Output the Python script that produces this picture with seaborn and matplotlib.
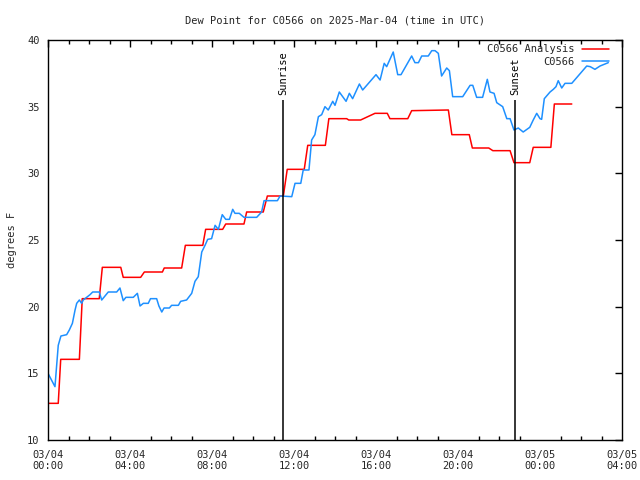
import matplotlib
matplotlib.use("Agg")
import matplotlib.pyplot as plt
import seaborn as sns
import pandas as pd
from matplotlib.ticker import MultipleLocator

# ---- data (hours since 03/04 00:00 UTC, dew point in F) ----
analysis_hours = [0.0, 0.5, 0.62, 1.53, 1.67, 2.5, 2.65, 3.55, 3.67, 4.52, 4.7, 5.58,
                  5.67, 6.52, 6.7, 7.55, 7.69, 8.52, 8.67, 9.56, 9.69, 10.5, 10.7, 11.48,
                  11.67, 12.5, 12.67, 13.53, 13.7, 14.57, 14.67, 15.25, 15.95, 16.55, 16.68,
                  17.55, 17.74, 19.53, 19.7, 20.55, 20.7, 21.5, 21.7, 22.54, 22.73, 23.5,
                  23.67, 24.53, 24.7, 25.55]
analysis_values = [12.75, 12.75, 16.05, 16.05, 20.6, 20.6, 22.95, 22.95, 22.2, 22.2, 22.6, 22.6,
                   22.9, 22.9, 24.6, 24.6, 25.8, 25.8, 26.2, 26.2, 27.1, 27.1, 28.3, 28.3,
                   30.3, 30.3, 32.1, 32.1, 34.1, 34.1, 34.0, 34.0, 34.5, 34.5, 34.1,
                   34.1, 34.7, 34.75, 32.9, 32.9, 31.9, 31.9, 31.7, 31.7, 30.8, 30.8,
                   31.95, 31.95, 35.2, 35.2]

obs_hours = [0, 0.34, 0.42, 0.5, 0.63, 0.91, 1.04, 1.19, 1.32, 1.4,
             1.53, 1.64, 1.72, 2.05, 2.18, 2.5, 2.62, 2.94, 3.35, 3.51,
             3.67, 3.8, 4.16, 4.36, 4.49, 4.65, 4.89, 5.0, 5.3, 5.41,
             5.55, 5.66, 5.92, 6.03, 6.36, 6.47, 6.76, 7.01, 7.17, 7.33,
             7.5, 7.66, 7.79, 7.98, 8.15, 8.31, 8.5, 8.67, 8.85, 9.01,
             9.12, 9.33, 9.56, 10.18, 10.42, 10.54, 11.19, 11.32, 11.89, 12.05,
             12.33, 12.45, 12.73, 12.86, 13.02, 13.19, 13.35, 13.51, 13.67, 13.89,
             14.0, 14.21, 14.54, 14.7, 14.86, 15.19, 15.35, 16.0, 16.2, 16.4,
             16.52, 16.84, 17.06, 17.22, 17.74, 17.9, 18.07, 18.23, 18.55, 18.72,
             18.88, 19.04, 19.2, 19.45, 19.58, 19.74, 20.23, 20.59, 20.72, 20.91,
             21.2, 21.43, 21.56, 21.76, 21.89, 22.18, 22.38, 22.54, 22.73, 22.94,
             23.18, 23.5, 23.67, 23.84, 24.0, 24.08, 24.21, 24.49, 24.65, 24.78,
             24.89, 25.06, 25.22, 25.55, 26.28, 26.45, 26.68, 26.93, 27.33]
obs_values = [15.0, 14.0, 15.5, 17.1, 17.8, 17.9, 18.25, 18.75, 19.75, 20.25,
              20.5, 20.25, 20.5, 20.9, 21.1, 21.1, 20.5, 21.1, 21.1, 21.4,
              20.45, 20.7, 20.7, 21.0, 20.05, 20.25, 20.25, 20.6, 20.6, 20.05,
              19.6, 19.9, 19.9, 20.1, 20.1, 20.4, 20.5, 21.0, 21.9, 22.25,
              24.1, 24.6, 25.05, 25.1, 26.1, 25.8, 26.9, 26.55, 26.55, 27.3,
              27.0, 27.0, 26.7, 26.7, 27.1, 27.95, 27.95, 28.3, 28.25, 29.25,
              29.25, 30.25, 30.25, 32.5, 32.9, 34.25, 34.4, 35.0, 34.75, 35.4,
              35.1, 36.1, 35.4, 36.0, 35.6, 36.7, 36.25, 37.4, 37.0, 38.25,
              38.0, 39.1, 37.4, 37.4, 38.8, 38.3, 38.3, 38.8, 38.8, 39.2,
              39.2, 39.0, 37.3, 37.9, 37.7, 35.75, 35.75, 36.6, 36.6, 35.7,
              35.7, 37.05, 36.1, 36.0, 35.3, 35.0, 34.1, 34.1, 33.25, 33.4,
              33.1, 33.45, 34.0, 34.5, 34.1, 34.05, 35.6, 36.1, 36.3, 36.5,
              36.95, 36.4, 36.75, 36.75, 38.05, 38.0, 37.8, 38.05, 38.3]

x_tick_hours = [0, 4, 8, 12, 16, 20, 24, 28]
x_tick_labels = ["03/04\n00:00", "03/04\n04:00", "03/04\n08:00", "03/04\n12:00",
                 "03/04\n16:00", "03/04\n20:00", "03/05\n00:00", "03/05\n04:00"]
sun_events = ["Sunrise", "Sunset"]
sun_hours = [11.47, 22.78]
sun_line_top = 35.5

title = "Dew Point for C0566 on 2025-Mar-04 (time in UTC)"
series_names = ["C0566 Analysis", "C0566"]

# ---- style ----
sns.set_style("white")
plt.rcParams['font.family'] = ['DejaVu Sans Mono', 'DejaVu Sans']
fs = 7.5

fig = plt.figure(figsize=(6.4, 4.8), dpi=100)
ax = fig.add_axes([48/640, 40/480, 574/640, 400/480])

df_a = pd.DataFrame({"hour": analysis_hours, "dewpoint": analysis_values})
df_o = pd.DataFrame({"hour": obs_hours, "dewpoint": obs_values})

sns.lineplot(data=df_a, x="hour", y="dewpoint", ax=ax, color="#ff0000", lw=1.1,
             estimator=None, sort=False, label=series_names[0])
sns.lineplot(data=df_o, x="hour", y="dewpoint", ax=ax, color="#1e90ff", lw=1.1,
             estimator=None, sort=False, label=series_names[1])

ax.vlines(sun_hours, 10, sun_line_top, color="black", lw=1.1)
for name, h in zip(sun_events, sun_hours):
    ax.text(h, sun_line_top + 0.4, name, rotation=90, ha="center", va="bottom",
            fontsize=fs, color="black")

ax.set_xlim(0, 28)
ax.set_ylim(10, 40)
ax.set_xticks(x_tick_hours)
ax.set_xticklabels(x_tick_labels, fontsize=fs)
ax.xaxis.set_minor_locator(MultipleLocator(1))
ax.set_yticks([10, 15, 20, 25, 30, 35, 40])
ax.tick_params(axis="y", labelsize=fs)
ax.tick_params(which="major", direction="in", length=5, width=1,
               top=True, right=True, color="black", pad=6)
ax.tick_params(which="minor", direction="in", length=3, width=1,
               top=True, bottom=True, color="black")
ax.tick_params(axis="x", which="major", pad=7)
for sp in ax.spines.values():
    sp.set_color("black")
    sp.set_linewidth(1)

ax.set_xlabel("")
ax.set_ylabel("degrees F", fontsize=fs, labelpad=7)
ax.set_title(title, fontsize=fs, pad=12)

leg = ax.legend(loc="upper right", frameon=False, markerfirst=False, fontsize=fs,
                handlelength=2.6, handletextpad=0.7, labelspacing=0.25,
                borderaxespad=0.0, bbox_to_anchor=(0.985, 1.0))

fig.savefig("out.png", dpi=100)
